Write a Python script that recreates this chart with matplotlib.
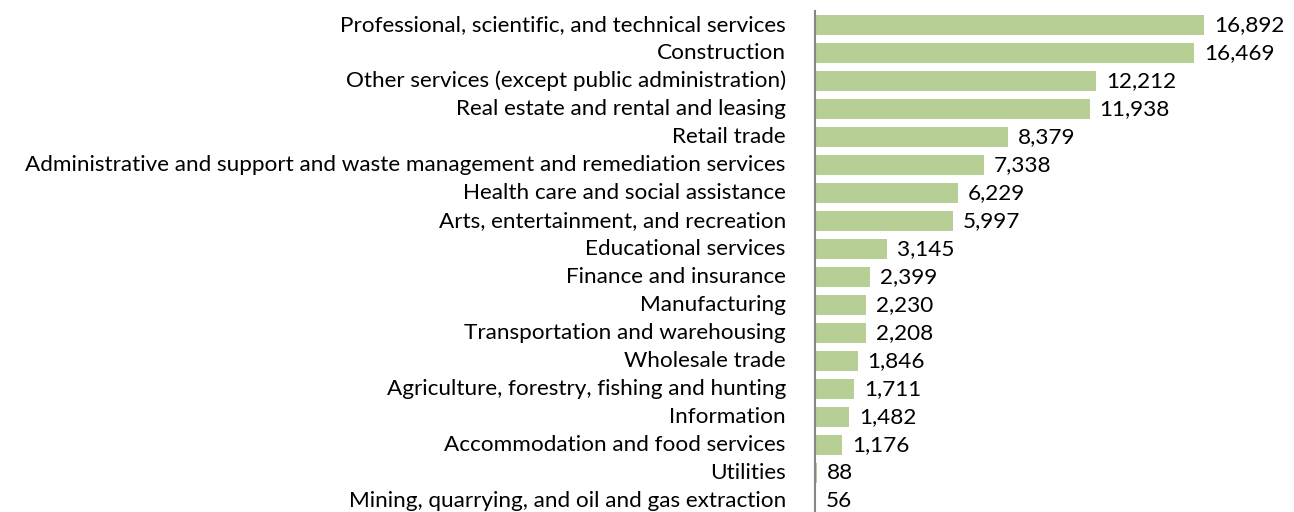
import matplotlib.pyplot as plt
from matplotlib.transforms import ScaledTranslation

plt.rcParams['font.family'] = ['Lato', 'DejaVu Sans']

# Datos (de arriba hacia abajo)
sectores = [
    "Professional, scientific, and technical services",
    "Construction",
    "Other services (except public administration)",
    "Real estate and rental and leasing",
    "Retail trade",
    "Administrative and support and waste management and remediation services",
    "Health care and social assistance",
    "Arts, entertainment, and recreation",
    "Educational services",
    "Finance and insurance",
    "Manufacturing",
    "Transportation and warehousing",
    "Wholesale trade",
    "Agriculture, forestry, fishing and hunting",
    "Information",
    "Accommodation and food services",
    "Utilities",
    "Mining, quarrying, and oil and gas extraction",
]
valores = [16892, 16469, 12212, 11938, 8379, 7338, 6229, 5997, 3145,
           2399, 2230, 2208, 1846, 1711, 1482, 1176, 88, 56]

W, H = 1294, 512
fig = plt.figure(figsize=(W / 100, H / 100), dpi=100)
# eje: borde izquierdo en x=815 px, arriba en y=11 px
ax = fig.add_axes([815 / W, -3 / H, (W - 815) / W, 504 / H])

pos = list(range(len(valores)))
ax.barh(pos, valores, height=0.72, color='#B7CE95')
ax.set_ylim(len(valores) - 0.5, -0.5)
ax.set_xlim(0, 479 / 0.02303)

for p, v in zip(pos, valores):
    ax.annotate(f"{v:,}", xy=(v, p), xytext=(7, 0), textcoords='offset points',
                va='center', ha='left', fontsize=16.2, color='black')

ax.set_yticks(pos)
ax.set_yticklabels(sectores, fontsize=16.2)
ax.tick_params(axis='y', length=0, pad=21)
# subir un poco las etiquetas para que la última no se corte
desplaza = ScaledTranslation(0, 1.5 / 72, fig.dpi_scale_trans)
for lbl in ax.get_yticklabels():
    lbl.set_transform(lbl.get_transform() + desplaza)
ax.set_xticks([])
for s in ['top', 'right', 'bottom']:
    ax.spines[s].set_visible(False)
ax.spines['left'].set_color('#868686')
ax.spines['left'].set_linewidth(1.5)

fig.savefig('out.png', dpi=100)
